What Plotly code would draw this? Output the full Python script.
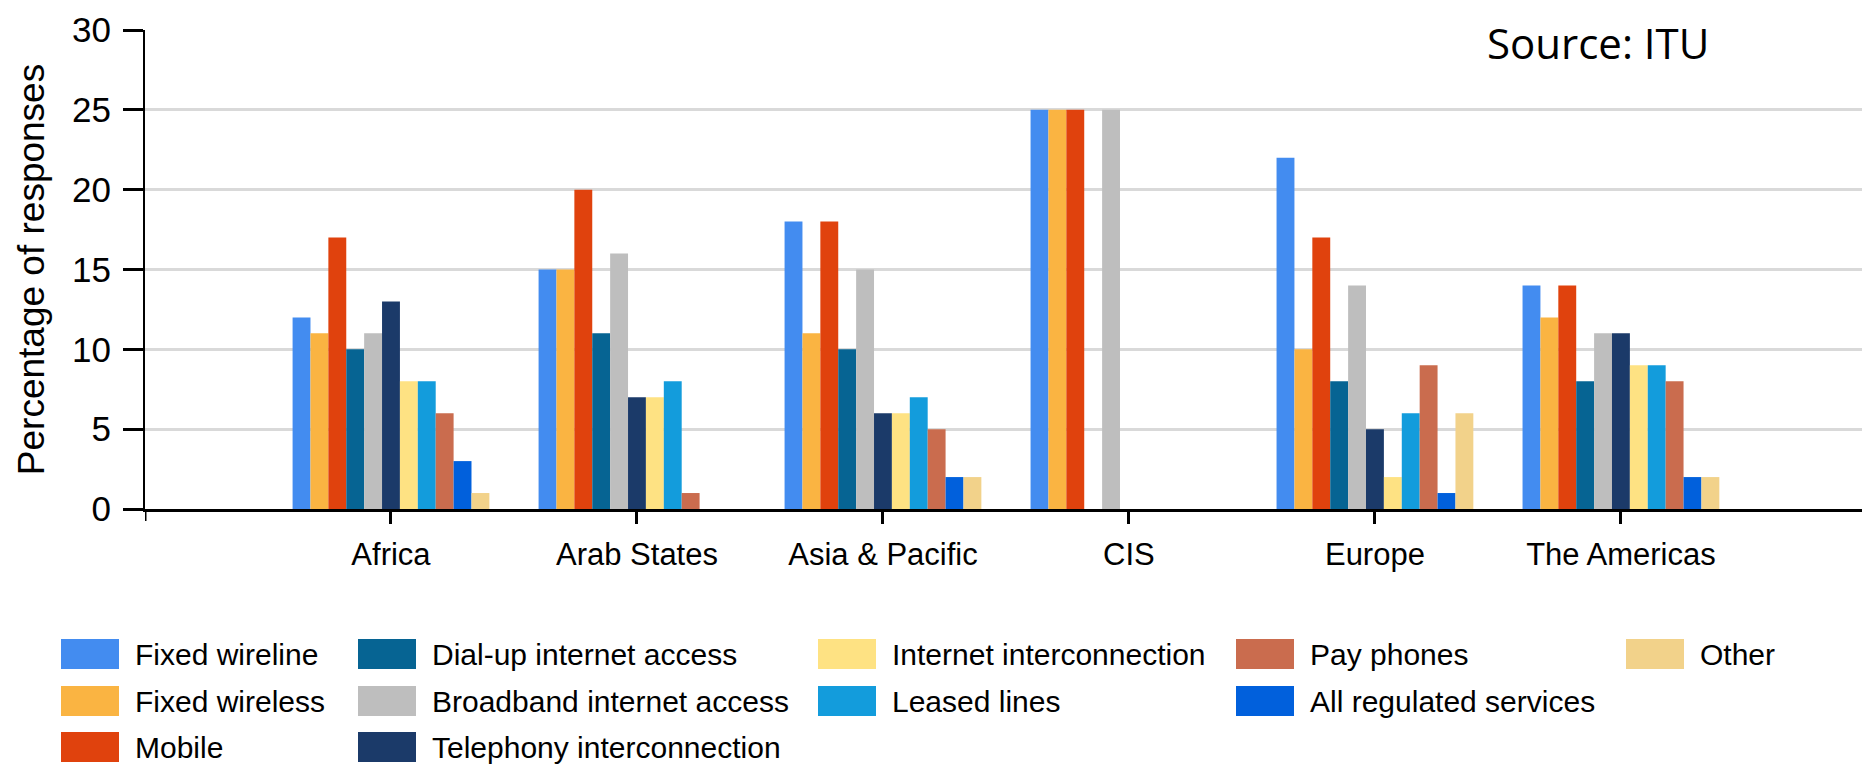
import plotly.graph_objects as go

# Regions on the x axis
regions = ["Africa", "Arab States", "Asia & Pacific", "CIS", "Europe", "The Americas"]

# Percentage of responses per regulated service, one list per service (same order as regions)
fixed_wireline = [12, 15, 18, 25, 22, 14]
fixed_wireless = [11, 15, 11, 25, 10, 12]
mobile = [17, 20, 18, 25, 17, 14]
dialup_internet = [10, 11, 10, 0, 8, 8]
broadband_internet = [11, 16, 15, 25, 14, 11]
telephony_interconnection = [13, 7, 6, 0, 5, 11]
internet_interconnection = [8, 7, 6, 0, 2, 9]
leased_lines = [8, 8, 7, 0, 6, 9]
pay_phones = [6, 1, 5, 0, 9, 8]
all_regulated = [3, 0, 2, 0, 1, 2]
other = [1, 0, 2, 0, 6, 2]

series_names = [
    "Fixed wireline", "Fixed wireless", "Mobile",
    "Dial-up internet access", "Broadband internet access", "Telephony interconnection",
    "Internet interconnection", "Leased lines",
    "Pay phones", "All regulated services",
    "Other",
]
series_values = [
    fixed_wireline, fixed_wireless, mobile,
    dialup_internet, broadband_internet, telephony_interconnection,
    internet_interconnection, leased_lines,
    pay_phones, all_regulated,
    other,
]
series_colors = [
    "#438cf0", "#fab442", "#e0420d",
    "#066493", "#bebebe", "#1b3a69",
    "#fee283", "#139cdc",
    "#ca6c4e", "#0160dc",
    "#f2d28a",
]

y_ticks = [0, 5, 10, 15, 20, 25, 30]

# ---- page geometry (pixels) ----
W, H = 1862, 768
PL, PR, PT, PB = 145, 1862, 30, 509
PW, PH = PR - PL, PB - PT


def px_x(x):
    return (x - PL) / PW


def px_y(y):
    return (PB - y) / PH


SANS = "Liberation Sans, Arial, sans-serif"

fig = go.Figure()
for name, vals, col in zip(series_names, series_values, series_colors):
    fig.add_trace(go.Bar(
        name=name, x=regions, y=vals,
        marker=dict(color=col, line=dict(width=0)),
        showlegend=False,
    ))

fig.update_layout(
    width=W, height=H,
    margin=dict(l=PL, r=W - PR, t=PT, b=H - PB, pad=0),
    paper_bgcolor="white", plot_bgcolor="white",
    barmode="group", bargap=0.2, bargroupgap=0,
    font=dict(family=SANS, color="black"),
)

fig.update_xaxes(
    type="category", range=[-1, 5.98],
    showline=True, linecolor="black", linewidth=3,
    ticks="outside", ticklen=12, tickwidth=3, tickcolor="black",
    tickfont=dict(family=SANS, size=31, color="black"),
    ticklabelstandoff=4,
    showgrid=False, zeroline=False,
)
fig.update_yaxes(
    range=[0, 30], tickvals=y_ticks,
    showline=True, linecolor="black", linewidth=2,
    ticks="outside", ticklen=20, tickwidth=3, tickcolor="black",
    tickfont=dict(family=SANS, size=35, color="black"),
    ticklabelstandoff=5,
    showgrid=True, gridcolor="#d9d9d9", gridwidth=3,
    zeroline=False,
    title=dict(text="Percentage of responses",
               font=dict(family=SANS, size=37, color="black"),
               standoff=16),
)

# small tick where the y axis meets the x axis
fig.add_shape(type="line", xref="x", yref="paper", x0=-1, x1=-1,
              y0=0, y1=-12 / PH, line=dict(color="black", width=3))

# Source note
fig.add_annotation(text="Source: ITU", xref="paper", yref="paper",
                   x=px_x(1485), y=px_y(42), xanchor="left", yanchor="middle",
                   showarrow=False,
                   font=dict(family="Open Sans, Noto Sans, sans-serif", size=42, color="black"))

# Legend: five columns filled top to bottom
legend_columns = [[0, 1, 2], [3, 4, 5], [6, 7], [8, 9], [10]]
col_left = [61, 358, 818, 1236, 1626]
row_center = [654, 701, 747]
sw_w, sw_h, gap = 58, 30, 14
for c, members in enumerate(legend_columns):
    for r, idx in enumerate(members):
        x0 = col_left[c]
        yc = row_center[r]
        fig.add_shape(type="rect", xref="paper", yref="paper",
                      x0=px_x(x0), x1=px_x(x0 + sw_w),
                      y0=px_y(yc - sw_h / 2), y1=px_y(yc + sw_h / 2),
                      fillcolor=series_colors[idx], line=dict(width=0))
        fig.add_annotation(text=series_names[idx], xref="paper", yref="paper",
                           x=px_x(x0 + sw_w + gap), y=px_y(yc),
                           xanchor="left", yanchor="middle", showarrow=False,
                           font=dict(family=SANS, size=30, color="black"))

fig.write_html("out.html")
